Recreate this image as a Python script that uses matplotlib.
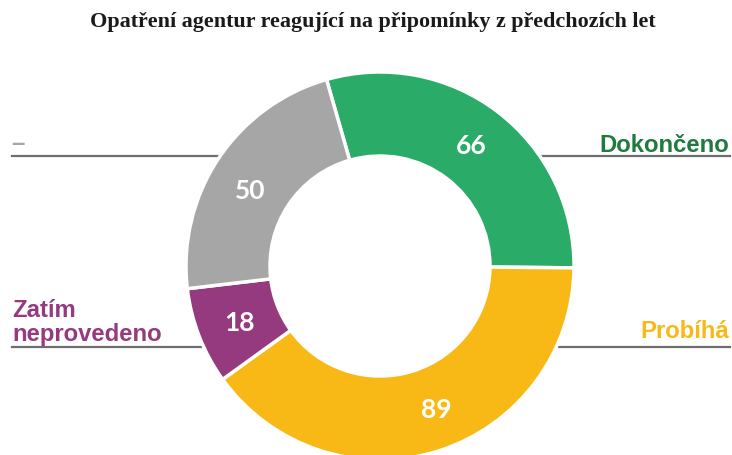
import math

import matplotlib.pyplot as plt

# ── Data ────────────────────────────────────────────────────────────────
categories = ["Dokončeno", "Probíhá", "Zatím neprovedeno", "–"]
values = [66, 89, 18, 50]
colors = ["#2aab68", "#f8b916", "#953a7e", "#a6a6a6"]
label_colors = ["#1f7a3e", "#f8b916", "#953a7e", "#a6a6a6"]
title = "Opatření agentur reagující na připomínky z předchozích let"

W, H = 732, 456
CX, CY, R_OUT, R_IN = 380, 267, 194, 110
LINE_COLOR = "#6e6e6e"
# where the value labels sit inside the ring (pixel coords, like the original)
value_label_pos = [(471, 146), (436, 410), (240, 323), (250, 191)]


def Y(py):
    # pixel row -> data y (axes spans the whole figure, y up)
    return H - py


def leader(py):
    # horizontal leader lines from the figure edges up to the donut rim
    dx = math.sqrt(R_OUT ** 2 - (py - CY) ** 2)
    ax.plot([12, CX - dx + 2], [Y(py), Y(py)], color=LINE_COLOR, lw=1.6, zorder=1)
    ax.plot([CX + dx - 2, 730], [Y(py), Y(py)], color=LINE_COLOR, lw=1.6, zorder=1)


fig = plt.figure(figsize=(W / 100, H / 100), dpi=100)
ax = fig.add_axes([0, 0, 1, 1])

leader(157)
leader(347.5)

total = sum(values)
wedges, _, autotexts = ax.pie(
    values, colors=colors, startangle=106, counterclock=False,
    center=(CX, Y(CY)), radius=R_OUT,
    wedgeprops=dict(width=R_OUT - R_IN, edgecolor="white", linewidth=2.5),
    autopct=lambda p: f"{round(p * total / 100):d}",
    pctdistance=(R_OUT + R_IN) / 2 / R_OUT,
    textprops=dict(color="white", fontsize=19, fontweight="bold", family="Lato"),
)
for w in wedges:
    w.set_zorder(2)
for t, (px, py) in zip(autotexts, value_label_pos):
    t.set_position((px, Y(py)))
    t.set_zorder(3)

ax.set_xlim(0, W)
ax.set_ylim(0, H)
ax.set_aspect("equal", adjustable="box")
ax.axis("off")

lab_kw = dict(fontsize=17.2, fontweight="bold", family="Liberation Sans")
ax.text(729, Y(152), categories[0], color=label_colors[0], ha="right", va="baseline", **lab_kw)
ax.text(729, Y(338), categories[1], color=label_colors[1], ha="right", va="baseline", **lab_kw)
ax.text(12, Y(341), "Zatím\nneprovedeno", color=label_colors[2], ha="left", va="baseline",
        linespacing=1.05, **lab_kw)
ax.text(11, Y(150), categories[3], color=label_colors[3], ha="left", va="baseline", **lab_kw)

fig.text(373 / W, 1 - 22 / H, title, ha="center", va="center",
         fontsize=15.9, fontweight="bold", family="Liberation Serif", color="#1a1a1a")

fig.savefig("out.png", dpi=100)
